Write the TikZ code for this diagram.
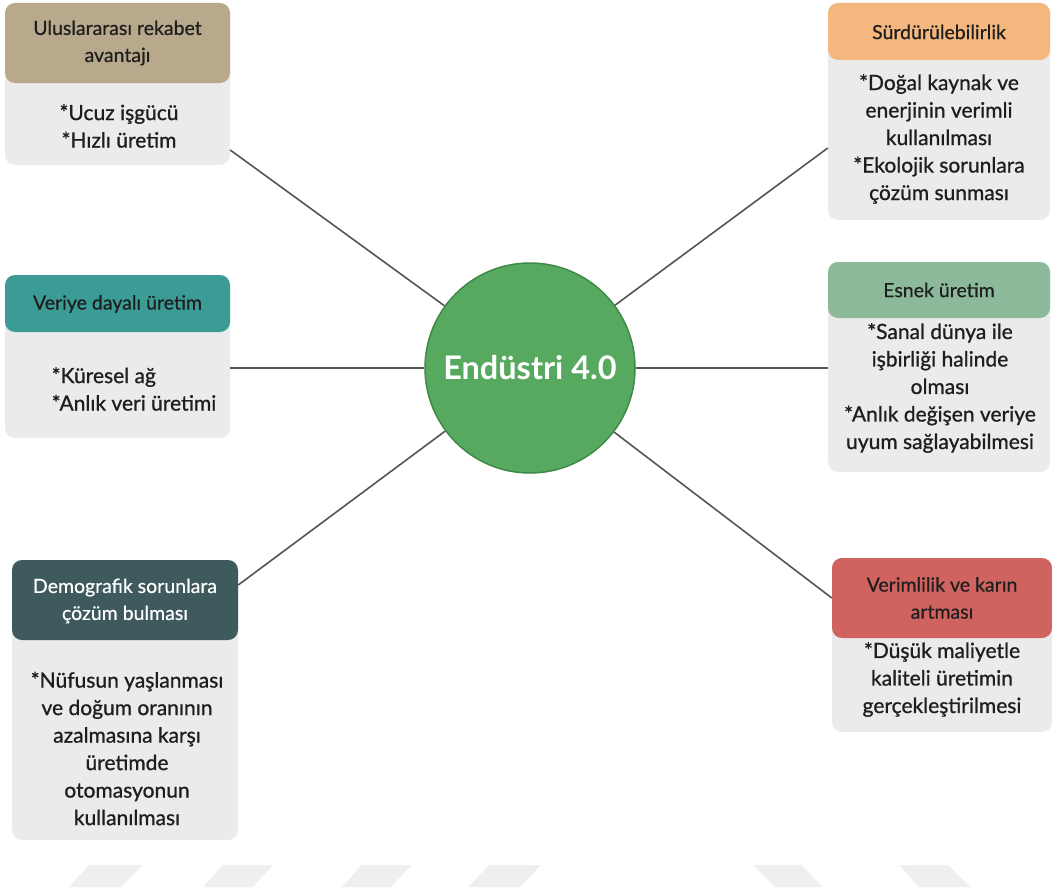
\documentclass[tikz,border=0pt]{standalone}
\usepackage{fontspec}
\setmainfont{Lato}
\newfontfamily\headfont{Lato}[FakeBold=0.5]
\newfontfamily\bodyfont{Lato}[FakeBold=0.9]
\definecolor{panelgrey}{HTML}{EBEBEB}
\definecolor{tanhead}{HTML}{B8A98D}
\definecolor{orangehead}{HTML}{F4B77E}
\definecolor{tealhead}{HTML}{3B9C96}
\definecolor{sagehead}{HTML}{8CB99A}
\definecolor{slatehead}{HTML}{3F5A5D}
\definecolor{redhead}{HTML}{D0625F}
\definecolor{hubgreen}{HTML}{57A95F}
\definecolor{hubedge}{HTML}{3E8A48}
\definecolor{linkgrey}{HTML}{555555}
\definecolor{inkdark}{HTML}{1E1E1E}
\definecolor{markgrey}{HTML}{EFEFEF}
\begin{document}
\begin{tikzpicture}[x=1pt,y=-1pt,
  panel/.style={fill=panelgrey, rounded corners=10pt, draw=none, inner sep=0pt},
  head/.style={rounded corners=10pt, draw=none, inner sep=0pt, anchor=north,
    text=inkdark, align=center, font=\headfont\fontsize{19.5}{27}\selectfont},
  body/.style={text=inkdark, align=center, inner sep=0pt,
    font=\bodyfont\fontsize{21}{27.5}\selectfont},
  link/.style={draw=linkgrey, line width=1.6pt},
  slantmark/.style={fill=markgrey, draw=none}]
\useasboundingbox (0,0) rectangle (1052,891);
\fill[white] (0,0) rectangle (1052,891);

% grey panels
\node[panel, minimum width=225pt, minimum height=162pt] (tl) at (117.5,84) {};
\node[panel, minimum width=222pt, minimum height=217pt] (tr) at (939,111.5) {};
\node[panel, minimum width=225pt, minimum height=163pt] (ml) at (117.5,356.5) {};
\node[panel, minimum width=222pt, minimum height=210pt] (mr) at (939,367) {};
\node[panel, minimum width=226pt, minimum height=280pt] (bl) at (125,700) {};
\node[panel, minimum width=220pt, minimum height=174pt] (br) at (942,645) {};

% coloured headers
\node[head, fill=tanhead, minimum width=225pt, minimum height=80pt] (tlh) at (tl.north) {};
\node[head, fill=orangehead, minimum width=222pt, minimum height=57pt] (trh) at (tr.north) {};
\node[head, fill=tealhead, minimum width=225pt, minimum height=57pt] (mlh) at (ml.north) {};
\node[head, fill=sagehead, minimum width=222pt, minimum height=56pt] (mrh) at (mr.north) {};
\node[head, fill=slatehead, minimum width=226pt, minimum height=80pt] (blh) at (bl.north) {};
\node[head, fill=redhead, minimum width=220pt, minimum height=80pt] (brh) at (br.north) {};

% header titles
\node[head, anchor=center] (tlt) at (117.5,43) {Uluslararası rekabet\\avantajı};
\node[head, anchor=center] (trt) at (939,32) {Sürdürülebilirlik};
\node[head, anchor=center] (mlt) at (117.5,304) {Veriye dayalı üretim};
\node[head, anchor=center] (mrt) at (939,290) {Esnek üretim};
\node[head, anchor=center, text=white] (blt) at (125,601) {Demografik sorunlara\\çözüm bulması};
\node[head, anchor=center] (brt) at (942,598) {Verimlilik ve karın\\artması};

% panel contents
\node[body] (tlb) at (119,126) {*Ucuz işgücü\\*Hızlı üretim};
\node[body] (trb) at (939,139) {*Doğal kaynak ve\\enerjinin verimli\\kullanılması\\*Ekolojik sorunlara\\çözüm sunması};
\node[body, align=left] (mlb) at (134,389) {*Küresel ağ\\*Anlık veri üretimi};
\node[body] (mrb) at (940,388) {*Sanal dünya ile\\işbirliği halinde\\olması\\*Anlık değişen veriye\\uyum sağlayabilmesi};
\node[body] (blb) at (127,748.5) {*Nüfusun yaşlanması\\ve doğum oranının\\azalmasına karşı\\üretimde\\otomasyonun\\kullanılması};
\node[body] (brb) at (942,679.5) {*Düşük maliyetle\\kaliteli üretimin\\gerçekleştirilmesi};

% central hub
\node[circle, fill=hubgreen, draw=hubedge, line width=1.5pt, minimum size=210pt,
  inner sep=0pt, text=white, font=\fontsize{32.5}{36}\selectfont\bfseries] (hub) at (530,368) {Endüstri 4.0};

% connector end points on the panels
\coordinate (tlp) at (tl.east |- 0,150);
\coordinate (mlp) at (ml.east |- hub);
\coordinate (blp) at (bl.east |- 0,585);
\coordinate (trp) at (tr.west |- 0,148);
\coordinate (mrp) at (mr.west |- hub);
\coordinate (brp) at (br.west |- 0,598);

\draw[link] (hub) -- (tlp);
\draw[link] (hub) -- (mlp);
\draw[link] (hub) -- (blp);
\draw[link] (hub) -- (trp);
\draw[link] (hub) -- (mrp);
\draw[link] (hub) -- (brp);

% faint slanted marks along the bottom
\fill[slantmark] (89,865) -- (142,865) -- (121,887) -- (69,887) -- cycle;
\fill[slantmark] (223,865) -- (273,865) -- (253,887) -- (203,887) -- cycle;
\fill[slantmark] (362,865) -- (412,865) -- (391,887) -- (342,887) -- cycle;
\fill[slantmark] (489,865) -- (541,865) -- (520,887) -- (468,887) -- cycle;
\fill[slantmark] (754,865) -- (802,865) -- (822,887) -- (775,887) -- cycle;
\fill[slantmark] (899,865) -- (948,865) -- (970,887) -- (919,887) -- cycle;
\end{tikzpicture}
\end{document}
